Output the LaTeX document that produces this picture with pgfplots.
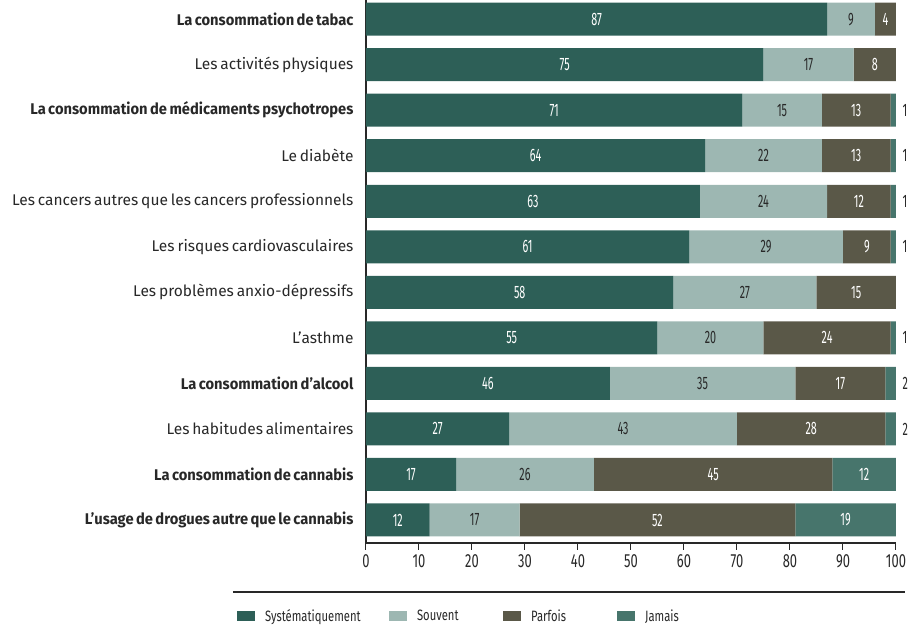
\documentclass[border=0pt]{standalone}
\usepackage{pgfplots}
\usepackage{pgfplotstable}
\pgfplotsset{compat=1.18}
\usepackage{fontspec}
\setmainfont{Fira Sans}[WordSpace=0.7, BoldFeatures={FakeStretch=0.95}]
\newfontfamily\numfont{Fira Sans}[FakeStretch=0.75]
\newfontfamily\tickfont{Fira Sans}[FakeStretch=0.68]
\newfontfamily\barfont{Fira Sans}[FakeStretch=0.6]
\definecolor{csys}{RGB}{45,95,87}
\definecolor{csou}{RGB}{157,183,178}
\definecolor{cpar}{RGB}{90,88,72}
\definecolor{cjam}{RGB}{71,117,108}
\definecolor{ctxt}{RGB}{40,40,40}

\pgfplotstableread{
y s so p j
11 87 9 4 0
10 75 17 8 0
9 71 15 13 1
8 64 22 13 1
7 63 24 12 1
6 61 29 9 1
5 58 27 15 0
4 55 20 24 1
3 46 35 17 2
2 27 43 28 2
1 17 26 45 12
0 12 17 52 19
}\data
\pgfplotstablecreatecol[expr={\thisrow{s}/2}]{cs}{\data}
\pgfplotstablecreatecol[expr={\thisrow{s}+\thisrow{so}/2}]{cso}{\data}
\pgfplotstablecreatecol[expr={\thisrow{s}+\thisrow{so}+\thisrow{p}/2}]{cp}{\data}
\pgfplotstablecreatecol[expr={\thisrow{s}+\thisrow{so}+\thisrow{p}+\thisrow{j}/2}]{cj}{\data}
\pgfplotstablecreatecol[expr={\thisrow{j}>4 ? \thisrow{j} : 0}]{jin}{\data}
\pgfplotstablecreatecol[expr={\thisrow{j}>4 ? 0 : \thisrow{j}}]{jout}{\data}

\newcommand{\nzlabel}{\pgfmathfloatifflags{\pgfplotspointmeta}{0}{}{\pgfmathprintnumber{\pgfplotspointmeta}}}

\pgfplotsset{/pgf/number format/assume math mode=true,
  frame/.style={scale only axis, width=530pt, height=543pt,
  xmin=0, xmax=100, ymin=-0.505, ymax=11.42}}

\begin{document}
\begin{tikzpicture}
\useasboundingbox (-366pt,-85pt) rectangle (545pt,543pt);
\begin{axis}[
  frame,
  xbar stacked, bar width=33pt,
  axis x line*=bottom, axis y line*=left,
  axis line style={line width=1.6pt, color=ctxt, -},
  xtick={0,10,...,100},
  tick align=outside, major tick length=7pt,
  x tick style={line width=1pt, color=ctxt},
  ytick={0,...,11}, y tick style={draw=none},
  yticklabels={
    \textbf{L'usage de drogues autre que le cannabis},
    \textbf{La consommation de cannabis},
    Les habitudes alimentaires,
    \textbf{La consommation d'alcool},
    L'asthme,
    Les problèmes anxio-dépressifs,
    Les risques cardiovasculaires,
    Les cancers autres que les cancers professionnels,
    Le diabète,
    \textbf{La consommation de médicaments psychotropes},
    Les activités physiques,
    \textbf{La consommation de tabac}},
  yticklabel style={font=\fontsize{15.5}{15.5}\selectfont, text=ctxt, xshift=-2pt},
  xticklabel style={font=\tickfont\fontsize{19}{19}\selectfont, text=ctxt, yshift=-1pt},
  legend columns=4,
  legend style={at={(0.17,0)}, anchor=center, yshift=-73pt, draw=none,
    font=\numfont\fontsize{15}{15}\selectfont, text=ctxt,
    nodes={inner sep=0pt},
    /tikz/every even column/.append style={column sep=0pt},
    /tikz/every odd column/.append style={column sep=0pt}},
  legend image code/.code={\fill[#1] (0pt,-5pt) rectangle (18pt,5pt);},
]
\addplot[fill=csys, draw=none] table[x=s, y=y] {\data};
\addplot[fill=csou, draw=none] table[x=so, y=y] {\data};
\addplot[fill=cpar, draw=none] table[x=p, y=y] {\data};
\addplot[fill=cjam, draw=none] table[x=j, y=y] {\data};
\legend{\makebox[134pt][l]{\hspace{10pt}Systématiquement},
        \makebox[96pt][l]{\hspace{10pt}Souvent},
        \makebox[96pt][l]{\hspace{10pt}Parfois},
        \makebox[40pt][l]{\hspace{10pt}Jamais}}
\end{axis}
\begin{axis}[frame, hide axis,
  nodes near coords style={font=\barfont\fontsize{18}{18}\selectfont, anchor=center},
  every axis plot/.append style={draw=none, mark=none, point meta=explicit, nodes near coords={\nzlabel}}]
\addplot[nodes near coords style={text=white}] table[x=cs, y=y, meta=s] {\data};
\addplot[nodes near coords style={text=ctxt}] table[x=cso, y=y, meta=so] {\data};
\addplot[nodes near coords style={text=white}] table[x=cp, y=y, meta=p] {\data};
\addplot[nodes near coords style={text=white}] table[x=cj, y=y, meta=jin] {\data};
\addplot[nodes near coords style={text=ctxt, anchor=west, xshift=3pt}] table[x expr=100, y=y, meta=jout] {\data};
\end{axis}
\draw[line width=1.5pt, color=ctxt] (-133pt,-49pt) -- (539pt,-49pt);
\end{tikzpicture}
\end{document}
